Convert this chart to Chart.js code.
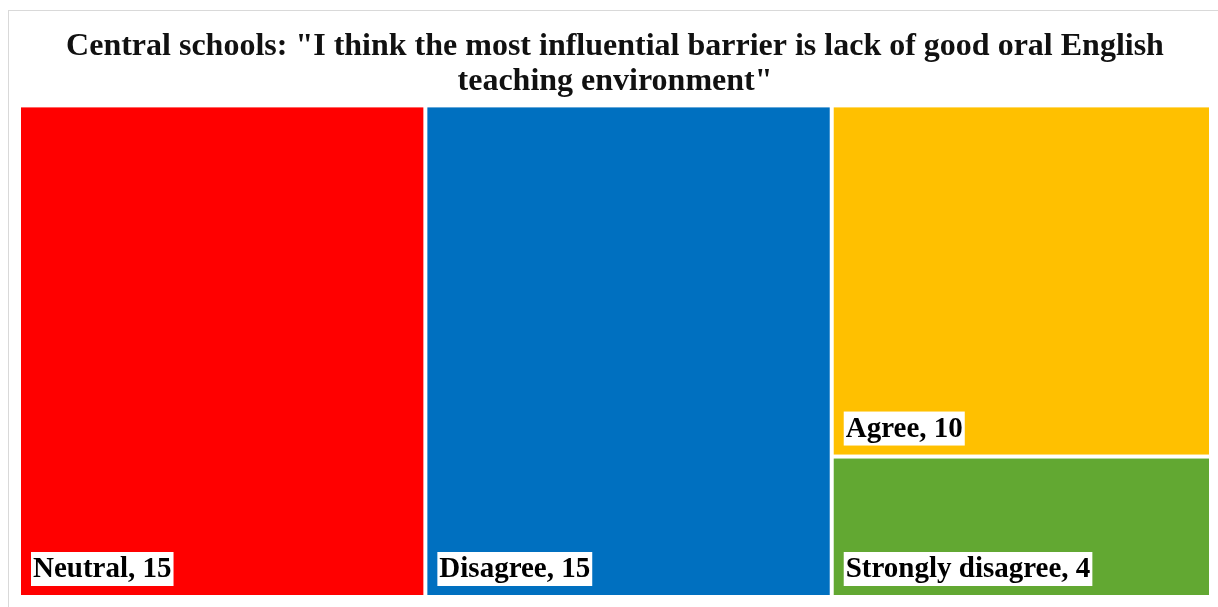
<!DOCTYPE html>
<html>
<head>
<meta charset="utf-8">
<script src="https://cdn.jsdelivr.net/npm/chart.js@4/dist/chart.umd.min.js"></script>
<style>
    html, body { margin: 0; padding: 0; background: #fff; overflow: hidden; }
    .frame { position: absolute; left: 8px; top: 10px; width: 1240px; height: 640px; border: 1px solid #d9d9d9; }
    .wrap { position: absolute; left: 0; top: 0; width: 1218px; height: 607px; }
</style>
</head>
<body>
<div class="frame"></div>
<div class="wrap"><canvas id="treemap"></canvas></div>
<script>
    // Responses (already sorted largest first)
    const categories = ['Neutral', 'Disagree', 'Agree', 'Strongly disagree'];
    const counts = [15, 15, 10, 4];
    const colors = ['#ff0000', '#0070c0', '#ffc000', '#62a832'];
    const titleLines = ['Central schools: "I think the most influential barrier is lack of good oral English', 'teaching environment"'];

    const total = counts.reduce((a, b) => a + b, 0);
    const sum = arr => arr.reduce((a, o) => a + o.v, 0);

    // Squarified layout in value space: x runs 0..total, y runs 0..1 (1 = top)
    function squarify(vals, sx, sy) {
        const rects = [];
        let rest = vals.map((v, i) => ({ v, i }));
        let b = { x: 0, y: 0, w: total, h: 1 };
        while (rest.length) {
            const W = b.w * sx, H = b.h * sy;
            const side = Math.min(W, H);
            const k2 = (W * H) / sum(rest);
            const worst = r => {
                const len = sum(r) * k2 / side;
                return Math.max(...r.map(o => {
                    const l = o.v * k2 / len;
                    return Math.max(len / l, l / len);
                }));
            };
            let k = 1;
            while (k < rest.length && worst(rest.slice(0, k + 1)) <= worst(rest.slice(0, k))) k++;
            const row = rest.slice(0, k);
            const rowSum = sum(row);
            const frac = rowSum / sum(rest);
            rest = rest.slice(k);
            if (W >= H) {
                const cw = b.w * frac;
                let top = b.y + b.h;
                row.forEach(o => {
                    const hh = b.h * o.v / rowSum;
                    rects[o.i] = { x0: b.x, x1: b.x + cw, y0: top - hh, y1: top };
                    top -= hh;
                });
                b = { x: b.x + cw, y: b.y, w: b.w - cw, h: b.h };
            } else {
                const rh = b.h * frac;
                let left = b.x;
                row.forEach(o => {
                    const ww = b.w * o.v / rowSum;
                    rects[o.i] = { x0: left, x1: left + ww, y0: b.y + b.h - rh, y1: b.y + b.h };
                    left += ww;
                });
                b = { x: b.x, y: b.y, w: b.w, h: b.h - rh };
            }
        }
        return rects;
    }

    const treemapPlugin = {
        id: 'treemapTiles',
        afterDatasetsDraw(chart) {
            const { ctx, chartArea, scales: { x, y } } = chart;
            const sx = chartArea.width / total;
            const sy = chartArea.height;
            const rects = squarify(counts, sx, sy);
            const gap = 2;
            ctx.save();
            rects.forEach((r, i) => {
                const left = x.getPixelForValue(r.x0) + gap;
                const right = x.getPixelForValue(r.x1) - gap;
                const top = y.getPixelForValue(r.y1) + gap;
                const bottom = y.getPixelForValue(r.y0) - gap;
                ctx.fillStyle = colors[i];
                ctx.fillRect(left, top, right - left, bottom - top);

                // Label with white backing box, bottom-left corner
                const text = categories[i] + ', ' + counts[i];
                ctx.font = 'bold 29px "Liberation Serif", "Times New Roman", serif';
                const tw = ctx.measureText(text).width;
                const bx = left + 10, bh = 34;
                const by = bottom - 9 - bh;
                ctx.fillStyle = '#ffffff';
                ctx.fillRect(bx, by, tw + 4, bh);
                ctx.fillStyle = '#000000';
                ctx.textBaseline = 'middle';
                ctx.textAlign = 'left';
                ctx.fillText(text, bx + 2, by + bh / 2 + 1);
            });
            ctx.restore();
        }
    };

    new Chart(document.getElementById('treemap'), {
        type: 'scatter',
        data: { datasets: [{ label: 'Responses', data: [] }] },
        options: {
            responsive: true,
            maintainAspectRatio: false,
            animation: false,
            layout: { padding: { left: 19, right: 7, top: 0, bottom: 10 } },
            plugins: {
                legend: { display: false },
                tooltip: { enabled: false },
                title: {
                    display: true,
                    text: titleLines,
                    color: '#111111',
                    font: { family: '"Liberation Serif", "Times New Roman", serif', size: 32, weight: 'bold', lineHeight: 1.1 },
                    padding: { top: 29, bottom: 6 }
                }
            },
            scales: {
                x: { type: 'linear', min: 0, max: total, display: false },
                y: { type: 'linear', min: 0, max: 1, display: false }
            }
        },
        plugins: [treemapPlugin]
    });
</script>
</body>
</html>
